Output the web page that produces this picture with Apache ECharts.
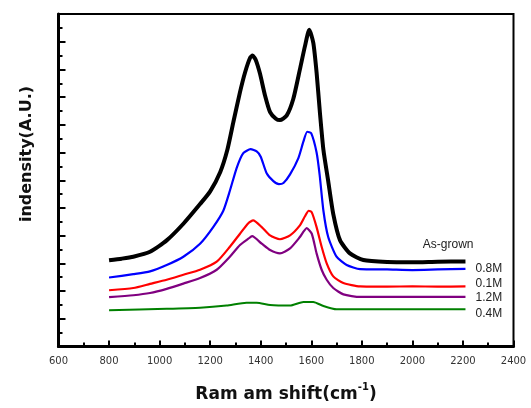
<!DOCTYPE html>
<html>
<head>
<meta charset="utf-8">
<script src="https://cdn.jsdelivr.net/npm/echarts@6/dist/echarts.min.js"></script>
<style>html,body{margin:0;padding:0;background:#fff}#c{width:531px;height:408px}</style>
</head>
<body>
<div id="c"></div>
<script>
var seriesNames = ['As-grown', '0.8M', '0.1M', '1.2M', '0.4M'];
var xTicks = [600, 2400, 200];
var yRange = [0, 12, 1];

var asGrown = [[800,3.11],[850,3.17],[896,3.24],[962,3.42],[1028,3.83],[1094,4.43],[1160,5.14],[1200,5.6],[1240,6.3],[1268,7.1],[1292,8.11],[1318,9.18],[1338,9.89],[1358,10.42],[1368,10.5],[1380,10.35],[1397,9.85],[1417,9.06],[1437,8.46],[1460,8.22],[1476,8.17],[1503,8.34],[1529,8.94],[1555,10.0],[1575,10.84],[1592,11.43],[1608,10.96],[1621,9.89],[1634,8.46],[1648,7.1],[1667,5.97],[1687,4.78],[1714,3.83],[1753,3.36],[1806,3.12],[1900,3.05],[2000,3.04],[2100,3.06],[2210,3.07]];
var m08 = [[800,2.49],[896,2.61],[962,2.71],[1028,2.94],[1094,3.24],[1160,3.71],[1212,4.31],[1252,4.90],[1278,5.62],[1305,6.45],[1331,6.98],[1360,7.12],[1384,7.04],[1400,6.85],[1424,6.24],[1450,5.97],[1472,5.86],[1490,5.9],[1516,6.21],[1549,6.80],[1569,7.40],[1584,7.75],[1600,7.69],[1621,7.0],[1633,6.2],[1648,4.9],[1667,3.95],[1700,3.24],[1740,2.94],[1793,2.79],[1900,2.78],[2000,2.76],[2100,2.78],[2210,2.8]];
var m01 = [[800,2.03],[896,2.11],[962,2.26],[1028,2.41],[1094,2.59],[1160,2.77],[1226,3.06],[1278,3.60],[1318,4.07],[1351,4.45],[1370,4.55],[1404,4.31],[1437,4.01],[1476,3.87],[1516,4.01],[1555,4.37],[1575,4.7],[1590,4.9],[1602,4.84],[1621,4.31],[1641,3.60],[1661,3.0],[1687,2.53],[1727,2.29],[1793,2.17],[1900,2.16],[2000,2.17],[2100,2.16],[2210,2.17]];
var m12 = [[800,1.78],[896,1.85],[962,1.93],[1028,2.08],[1094,2.27],[1160,2.47],[1226,2.77],[1278,3.24],[1318,3.66],[1351,3.89],[1366,3.98],[1404,3.71],[1437,3.48],[1476,3.36],[1516,3.54],[1555,3.95],[1582,4.27],[1602,4.07],[1621,3.36],[1641,2.77],[1661,2.41],[1687,2.11],[1727,1.88],[1793,1.79],[2000,1.79],[2210,1.79]];
var m04 = [[800,1.31],[1028,1.36],[1160,1.40],[1265,1.48],[1344,1.58],[1384,1.58],[1437,1.5],[1516,1.48],[1569,1.61],[1608,1.61],[1648,1.46],[1700,1.34],[2210,1.34]];

var seriesData = [asGrown, m08, m01, m12, m04];
var colors = ['#000000', '#0000ff', '#ff0000', '#800080', '#008000'];
var widths = [4, 2.2, 2.2, 2.2, 2];
var labelOffsets = [[8, -17], [10, 0], [10, -3], [10, 1], [10, 4]];

var chart = echarts.init(document.getElementById('c'));
var series = seriesData.map(function (d, i) {
  return {
    type: 'line',
    name: seriesNames[i],
    data: d,
    showSymbol: false,
    symbol: 'none',
    smooth: 0.2,
    animation: false,
    lineStyle: { color: colors[i], width: widths[i], join: 'round' },
    z: 10 - i,
    endLabel: {
      show: true,
      formatter: seriesNames[i],
      fontFamily: 'Liberation Sans',
      fontSize: 12,
      color: '#222',
      distance: 0,
      align: i === 0 ? 'right' : 'left',
      offset: labelOffsets[i]
    }
  };
});

chart.setOption({
  animation: false,
  grid: { left: 58.5, right: 17.5, top: 14, bottom: 57, show: true, borderColor: '#000', borderWidth: 2, backgroundColor: 'transparent' },
  xAxis: {
    type: 'value', min: xTicks[0], max: xTicks[1], interval: xTicks[2],
    name: 'Ram am shift(cm{sup|-1})',
    nameLocation: 'middle', nameGap: 36,
    nameTextStyle: {
      fontFamily: 'DejaVu Sans', fontWeight: 'bold', fontSize: 17, color: '#111',
      rich: { sup: { fontFamily: 'DejaVu Sans', fontSize: 10, fontWeight: 'bold', verticalAlign: 'top', padding: [0, 0, 14, 0], color: '#111' } }
    },
    axisLine: { show: true, lineStyle: { color: '#000', width: 3 } },
    axisTick: { show: true, inside: true, length: 6, lineStyle: { color: '#000', width: 2 } },
    minorTick: { show: true, splitNumber: 2, length: 4, lineStyle: { color: '#000', width: 2 } },
    axisLabel: { fontFamily: 'DejaVu Sans', fontSize: 10, color: '#333', margin: 10, formatter: function (v) { return String(v); } },
    splitLine: { show: false }
  },
  yAxis: {
    type: 'value', min: yRange[0], max: yRange[1], interval: yRange[2],
    axisLine: { show: true, lineStyle: { color: '#000', width: 3 } },
    axisTick: { show: true, inside: true, length: 7, lineStyle: { color: '#000', width: 2 } },
    minorTick: { show: true, splitNumber: 2, length: 4, lineStyle: { color: '#000', width: 2 } },
    axisLabel: { show: false },
    splitLine: { show: false }
  },
  graphic: [{
    type: 'text',
    x: 27, y: 154,
    rotation: Math.PI / 2,
    style: {
      text: 'indensity(A.U.)',
      fontFamily: 'DejaVu Sans', fontWeight: 'bold', fontSize: 16,
      fill: '#111', align: 'center', verticalAlign: 'middle'
    }
  }],
  series: series
});
</script>
</body>
</html>
